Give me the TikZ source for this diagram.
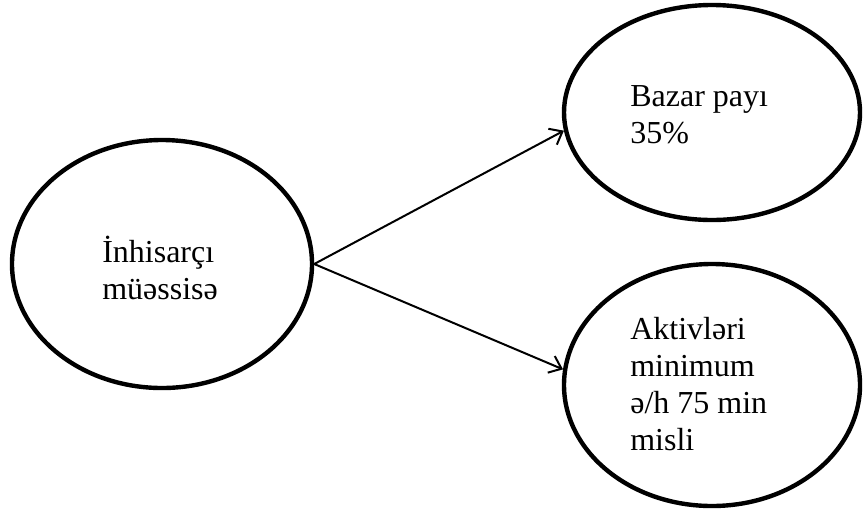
\documentclass[tikz,border=0pt]{standalone}
\usepackage{fontspec}
\setmainfont{Liberation Serif}
\usetikzlibrary{shapes.geometric, arrows.meta}

\begin{document}
\begin{tikzpicture}[
    oval/.style={draw, ellipse, line width=0.11cm, inner sep=0pt},
    blurb/.style={align=left, inner sep=0pt, font=\fontsize{22.76}{26.18}\selectfont},
    link/.style={line width=0.05cm, -{Straight Barb[length=0.28cm, width=0.45cm]}}
  ]
  \useasboundingbox (0,0) rectangle (21.575,-12.775);
  % ellipses
  \node[oval, minimum width=7.5cm, minimum height=6.2cm] (firm) at (4.05,-6.6) {};
  \node[oval, minimum width=7.4cm, minimum height=5.375cm] (share) at (17.8,-2.8125) {};
  \node[oval, minimum width=7.4cm, minimum height=6.05cm] (assets) at (17.8,-9.625) {};
  % texts
  \node[blurb, anchor=base west] (firmText) at (2.55,-7.475) {İnhisarçı\\müəssisə};
  \node[blurb, anchor=base west] (shareText) at (15.75,-3.575) {Bazar payı\\35\%};
  \node[blurb, anchor=base west] (assetsText) at (15.75,-11.25) {Aktivləri\\minimum\\ə/h 75 min\\misli};
  % arrows
  \draw[link] (firm.east) -- (share.187);
  \draw[link] (firm.east) -- (assets.174);
\end{tikzpicture}
\end{document}
